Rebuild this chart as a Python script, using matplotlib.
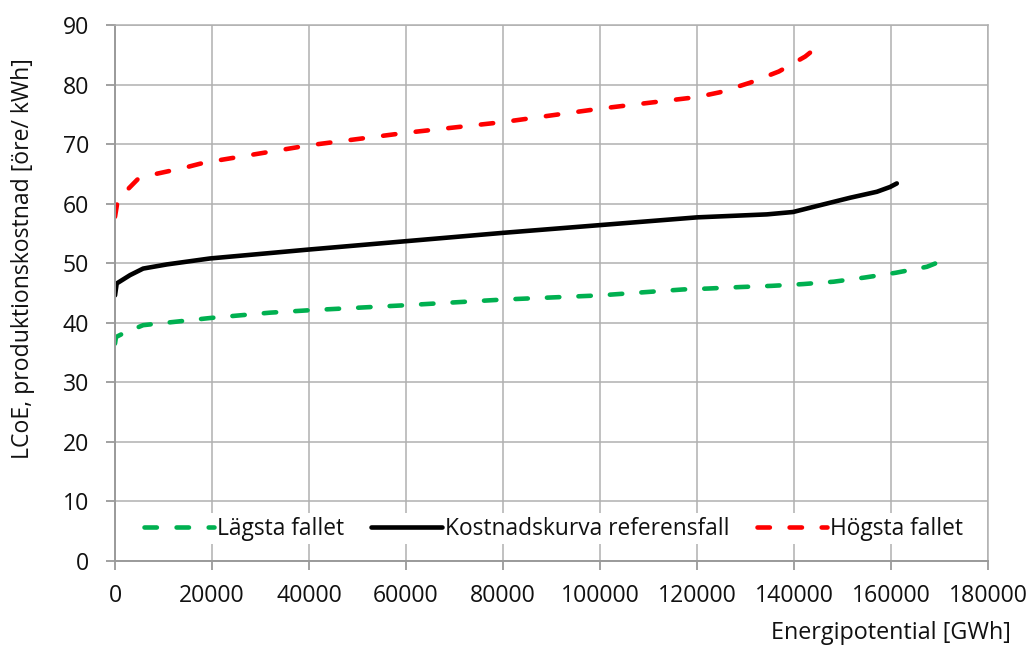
import matplotlib
matplotlib.use("Agg")
import matplotlib.pyplot as plt
import numpy as np

plt.rcParams['font.family'] = ['Open Sans', 'DejaVu Sans']

# Data
low_x = [0, 200, 1650, 5800, 12800, 19600, 32000, 40000, 60000, 80000, 100000, 117200,
         122300, 128900, 135400, 141900, 148200, 154600, 161000, 167400, 169100]
low_y = [36.5, 37.6, 38.2, 39.6, 40.2, 40.8, 41.7, 42.1, 42.95, 43.9, 44.6, 45.6,
         45.75, 46.0, 46.2, 46.5, 46.9, 47.6, 48.4, 49.4, 49.95]

ref_x = [0, 350, 3100, 5800, 10700, 19600, 40000, 60000, 80000, 100000, 120000,
         134400, 139800, 144700, 151600, 157100, 159800, 161200]
ref_y = [44.6, 46.6, 48.0, 49.1, 49.8, 50.8, 52.3, 53.7, 55.1, 56.4, 57.7,
         58.2, 58.6, 59.6, 61.0, 62.0, 62.8, 63.4]

high_x = [0, 500, 2750, 4800, 7900, 11300, 14400, 17500, 20000, 40000, 60000, 80000,
          100000, 120000, 124700, 130900, 136900, 142300, 143300]
high_y = [57.8, 60.3, 62.5, 64.2, 64.9, 65.5, 66.05, 66.7, 67.1, 69.8, 71.9, 73.7,
          75.95, 77.9, 78.7, 80.3, 82.2, 84.7, 85.35]

labels = ['Lägsta fallet', 'Kostnadskurva referensfall', 'Högsta fallet']
colors = ['#00B050', '#000000', '#FF0000']

x_ticks = list(range(0, 180001, 20000))
y_ticks = list(range(0, 91, 10))

fig = plt.figure(figsize=(10.31, 6.48), dpi=100)
ax = fig.add_axes([115/1031, 1-561/648, (988-115)/1031, (561-25)/648])
ax.set_xlim(0, 180000)
ax.set_ylim(0, 90)

lw = 3.3
base_on, base_off = 2.7, 4.3


def fitted_dashes(xs, ys):
    # stretch the dash pattern slightly so the line both starts and ends on a dash
    pts = ax.transData.transform(np.column_stack([xs, ys]))
    length_px = np.sum(np.hypot(*np.diff(pts, axis=0).T))
    unit = lw * fig.dpi / 72.0
    on, period = base_on * unit, (base_on + base_off) * unit
    n = max(1, round((length_px - on) / period))
    scale = (length_px - on) / (n * period)
    return (base_on, base_off * scale + base_on * (scale - 1))


l1, = ax.plot(low_x, low_y, color=colors[0], lw=lw, dashes=fitted_dashes(low_x, low_y),
              dash_capstyle='round', label=labels[0])
l2, = ax.plot(ref_x, ref_y, color=colors[1], lw=lw, solid_capstyle='round',
              solid_joinstyle='round', label=labels[1])
l3, = ax.plot(high_x, high_y, color=colors[2], lw=lw, dashes=fitted_dashes(high_x, high_y),
              dash_capstyle='round', label=labels[2])

ax.set_xticks(x_ticks)
ax.set_yticks(y_ticks)
ax.set_xticklabels([str(v) for v in x_ticks])
ax.set_yticklabels([str(v) for v in y_ticks])
ax.grid(True, color='#B0B0B0', lw=1.1)
ax.set_axisbelow(True)
for name, s in ax.spines.items():
    if name in ('left', 'bottom'):
        s.set_color('#9A9A9A')
        s.set_linewidth(1.4)
    else:
        s.set_color('#B0B0B0')
        s.set_linewidth(1.1)
ax.tick_params(axis='both', which='both', direction='out', length=6.5, width=1.3,
               color='#9A9A9A', labelsize=16.6, labelcolor='#111111')
ax.tick_params(axis='y', pad=12.0)
ax.tick_params(axis='x', pad=10.0)

fig.text(23.5/1031, 1-258.5/648, 'LCoE, produktionskostnad [öre/ kWh]', rotation=90,
         ha='center', va='center', fontsize=16.6, color='#111111')
fig.text(1011/1031, 1-633/648, 'Energipotential [GWh]', ha='right', va='center',
         fontsize=16.8, color='#111111')

h1, = ax.plot([], [], color=colors[0], lw=lw, dashes=(base_on, base_off), dash_capstyle='round')
h3, = ax.plot([], [], color=colors[2], lw=lw, dashes=(base_on, base_off), dash_capstyle='round')
leg = ax.legend(handles=[h1, l2, h3], labels=labels, loc='center',
                bbox_to_anchor=(0.502, 5.45/90), ncol=3,
                frameon=True, fancybox=False, framealpha=1, edgecolor='none', facecolor='white',
                fontsize=16.4, handlelength=3.1, handletextpad=0.12, columnspacing=1.2,
                borderpad=0.15, borderaxespad=0, labelcolor='#111111')

fig.savefig('out.png', dpi=100)
